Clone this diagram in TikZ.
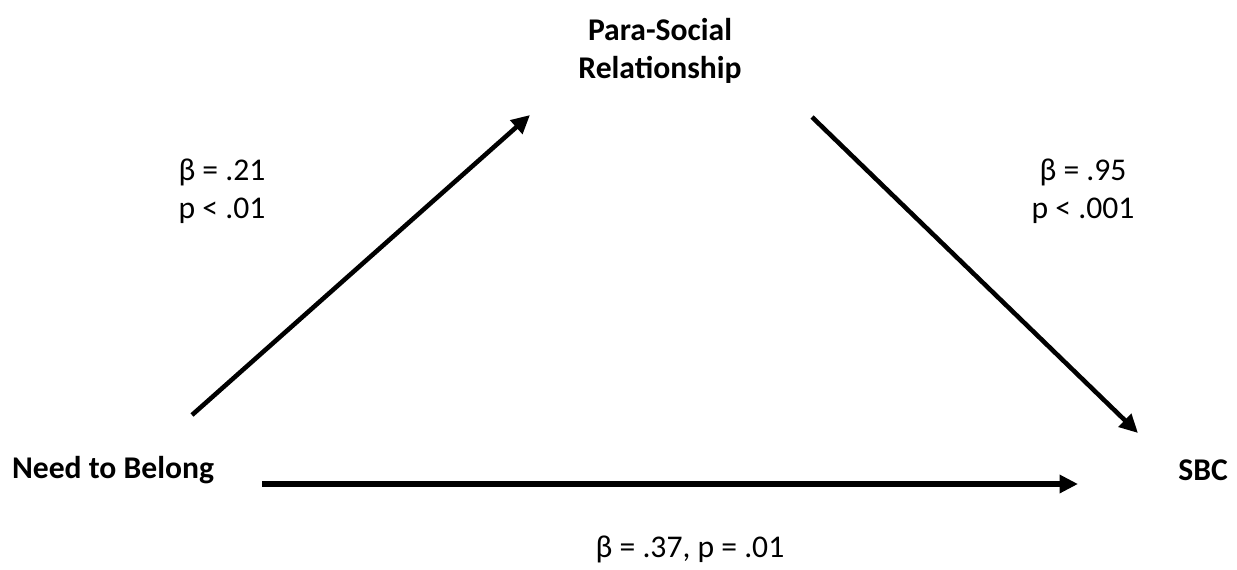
\documentclass[tikz,border=0pt]{standalone}
\usepackage{fontspec}
\setmainfont{Carlito}
\usetikzlibrary{arrows.meta}

\begin{document}
\begin{tikzpicture}[x=0.02cm, y=-0.02cm,
          every node/.style={font=\fontsize{18}{21.5}\selectfont, align=center},
          var/.style={font=\fontsize{18}{21.5}\selectfont\bfseries},
          path/.style={-{Triangle[length=10.5pt, width=10pt]}, line width=2.6pt},
          mainpath/.style={path, line width=3pt}
      ]
        \useasboundingbox (0,0) rectangle (1237,569);
        \node[var] (psr) at (660, 51)  {Para-Social\\Relationship};
        \node[var] (ntb) at (113, 470) {Need to Belong};
        \node[var] (sbc) at (1203, 470) {SBC};
        \node (ab) at (222, 191)  {β = .21\\p < .01};
        \node (bc) at (1083, 191) {β = .95\\p < .001};
        \node (ac) at (690, 549)  {β = .37, p = .01};
        \coordinate (a0) at (192, 415);
        \coordinate (a1) at (530, 115);
        \coordinate (b0) at (812, 117);
        \coordinate (b1) at (1138, 433);
        \coordinate (c0) at (262, 484);
        \coordinate (c1) at (1078, 484);
        \draw[path] (a0) -- (a1);
        \draw[path] (b0) -- (b1);
        \draw[mainpath] (c0) -- (c1);
      \end{tikzpicture}
\end{document}
